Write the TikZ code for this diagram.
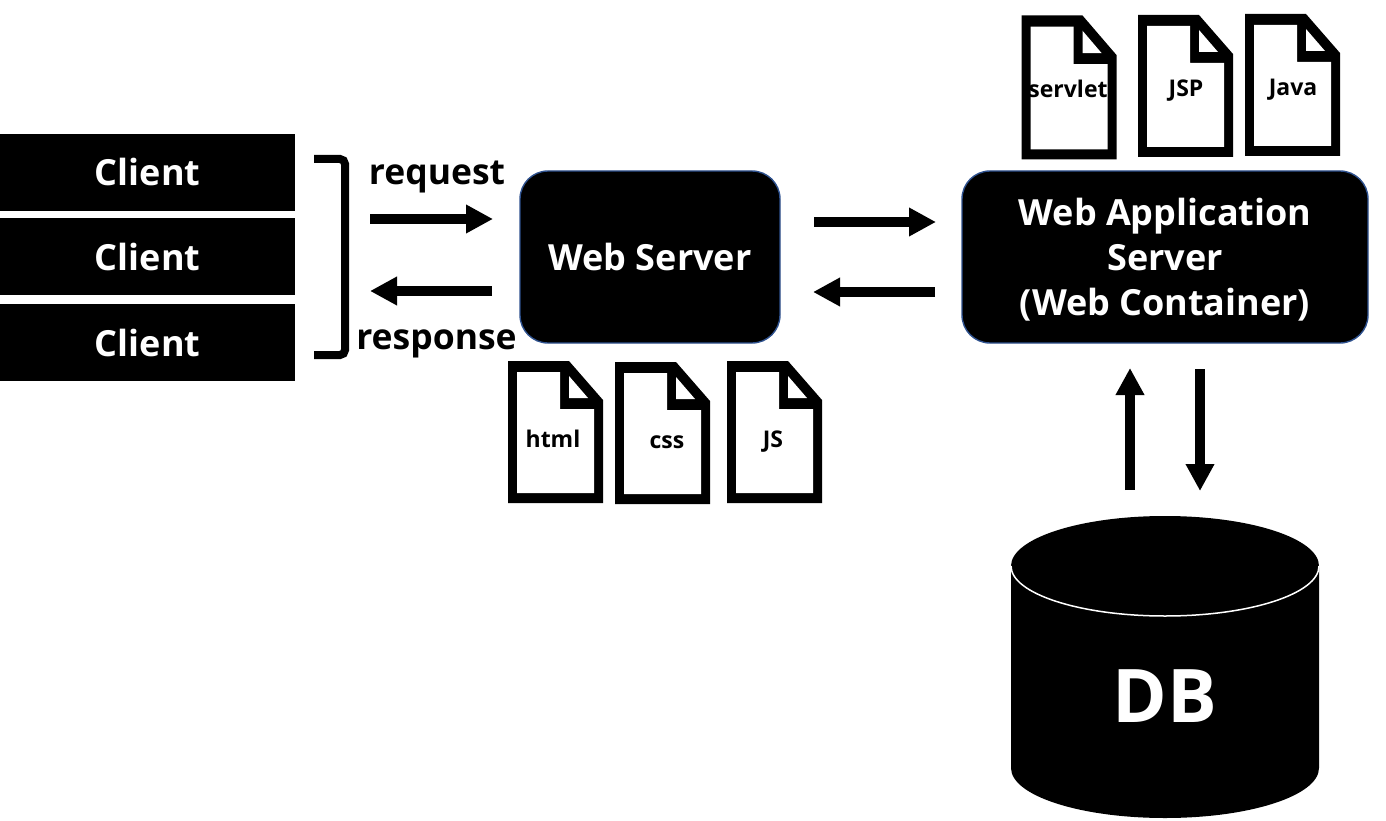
\documentclass[tikz,border=0pt]{standalone}
\usepackage{fontspec}
\setmainfont{Open Sans}[BoldFont={Open Sans Bold}]
\usetikzlibrary{arrows.meta}
\tikzset{
  x=1pt,y=-1pt,
  blackbox/.style={fill=black,text=white,font=\bfseries\fontsize{36}{45}\selectfont,align=center,inner sep=0pt},
  clientbox/.style={blackbox,minimum width=295pt,minimum height=77pt,anchor=north west},
  serverbox/.style={blackbox,draw=navyedge,line width=1.4pt,rounded corners=28pt,minimum height=172pt},
  flow/.style={line width=10pt,-{Triangle[length=27pt,width=27pt]}},
  flowlabel/.style={font=\bfseries\fontsize{35.5}{40}\selectfont,inner sep=0pt},
  doclabel/.style={font=\bfseries\fontsize{23}{28}\selectfont,inner sep=0pt},
  pics/docicon/.style={code={
    \fill[black] (0,0)--(61,0)--(95,39)--(95,142)--(0,142)--cycle;
    \fill[white] (9,11)--(52,11)--(52,48)--(86,48)--(86,132)--(9,132)--cycle;
    \fill[white] (61,15)--(80,37)--(61,37)--cycle;
  }}
}
\definecolor{navyedge}{RGB}{47,82,143}
\begin{document}
\begin{tikzpicture}
\useasboundingbox (0,0) rectangle (1386,821);
% clients
\node[clientbox] (c1) at (0,133.5) {Client};
\node[clientbox] (c2) at (0,218) {Client};
\node[clientbox] (c3) at (0,304) {Client};
% bracket
\coordinate (bt) at (314,159);
\coordinate (bb) at (314,355);
\draw[line width=8pt,rounded corners=5pt] (bt) -| (345,355) -- (bb);
% servers
\node[serverbox,minimum width=260pt] (ws) at (650,257) {Web Server};
\node[serverbox,minimum width=406pt,text height=0pt,text depth=0pt,minimum height=172pt] (was) at (1165,257) {};
\node[blackbox,fill=none] (wastext) at (1165,260) {Web Application\\Server\\(Web Container)};
% labels
\node[flowlabel] (req) at (437,177) {request};
\node[flowlabel] (res) at (436.5,344) {response};
% arrows
\coordinate (a1) at (370,219); \coordinate (a2) at (493,219);
\coordinate (a3) at (492,291); \coordinate (a4) at (370,291);
\coordinate (a5) at (814,222); \coordinate (a6) at (936,222);
\coordinate (a7) at (935,292); \coordinate (a8) at (813,292);
\coordinate (a9) at (1130,490); \coordinate (a10) at (1130,368);
\coordinate (a11) at (1200,369); \coordinate (a12) at (1200,491);
\draw[flow] (a1) -- (a2);
\draw[flow] (a3) -- (a4);
\draw[flow] (a5) -- (a6);
\draw[flow] (a7) -- (a8);
\draw[flow] (a9) -- (a10);
\draw[flow] (a11) -- (a12);
% documents
\pic at (508,361) {docicon};
\pic at (615,362) {docicon};
\pic at (727,361) {docicon};
\pic[yscale=1.014] at (1021.5,15.5) {docicon};
\pic at (1138,15) {docicon};
\pic at (1245,14) {docicon};
\node[doclabel] (d1) at (553,439) {html};
\node[doclabel] (d2) at (667,442) {css};
\node[doclabel] (d3) at (773,442) {JS};
\node[doclabel] (d4) at (1068,89) {servlet};
\node[doclabel] (d5) at (1186,91) {JSP};
\node[doclabel] (d6) at (1293,90) {Java};
% database
\fill[black] (1011,566) -- (1011,768) arc[start angle=180,end angle=360,x radius=154pt,y radius=50pt] -- (1319,566) arc[start angle=0,end angle=180,x radius=154pt,y radius=50pt] -- cycle;
\draw[white,line width=1.5pt] (1011,566) arc[start angle=180,end angle=360,x radius=154pt,y radius=50pt];
\node[font=\bfseries\fontsize{74}{80}\selectfont,text=white,inner sep=0pt] (db) at (1165,696) {DB};
\end{tikzpicture}
\end{document}
